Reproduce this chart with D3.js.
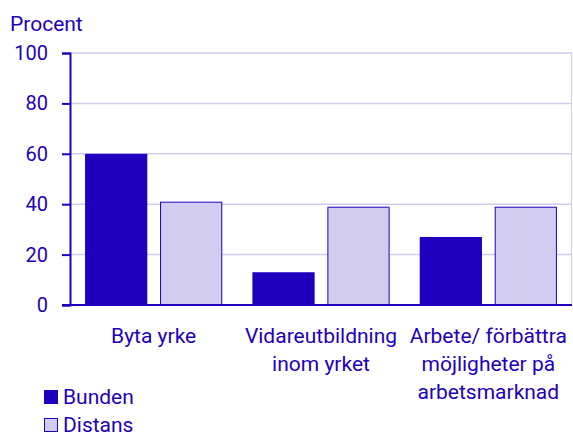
<!DOCTYPE html>
<html lang="sv">
<head>
<meta charset="UTF-8">
<title>Procent</title>
<style>
  html, body { margin: 0; padding: 0; background: #fff; }
  svg text { font-family: Roboto, "Noto Sans", sans-serif; fill: #1e00be; }
</style>
</head>
<body>
<svg class="chart"></svg>
<script src="https://cdn.jsdelivr.net/npm/d3@7"></script>
<script>
  // data
  const categories = [
    ["Byta yrke"],
    ["Vidareutbildning", "inom yrket"],
    ["Arbete/ förbättra", "möjligheter på", "arbetsmarknad"]
  ];
  const series = ["Bunden", "Distans"];
  const bunden = [60, 13, 27];
  const distans = [41, 39, 39];
  const yTicks = [0, 20, 40, 60, 80, 100];

  const width = 573, height = 439;
  const dark = "#1e00be", light = "#d2cdf0";
  const fs = 21;
  const m = { left: 70, right: 1, top: 53, bottom: 134 };

  const svg = d3.select("svg.chart").attr("width", width).attr("height", height);

  const x0 = d3.scaleBand()
    .domain(d3.range(categories.length))
    .range([m.left, width - m.right])
    .paddingInner(0.18).paddingOuter(0.09);
  const x1 = d3.scaleBand()
    .domain(series)
    .range([0, x0.bandwidth()])
    .paddingInner(0.17);
  const y = d3.scaleLinear().domain([0, 100]).range([height - m.bottom, m.top]);

  // gridlines
  svg.append("g").selectAll("line")
    .data(yTicks.slice(1))
    .join("line")
    .attr("x1", m.left).attr("x2", width - m.right)
    .attr("y1", d => y(d)).attr("y2", d => y(d))
    .attr("stroke", light).attr("stroke-width", 1.5);

  // right closing line
  svg.append("line")
    .attr("x1", width - m.right - 0.5).attr("x2", width - m.right - 0.5)
    .attr("y1", y(100)).attr("y2", y(0))
    .attr("stroke", light).attr("stroke-width", 1);

  // bars
  const rows = categories.map((c, i) => [
    { s: "Bunden", v: bunden[i], i },
    { s: "Distans", v: distans[i], i }
  ]);
  svg.append("g").selectAll("g")
    .data(rows)
    .join("g")
    .attr("transform", (d, i) => `translate(${x0(i)},0)`)
    .selectAll("rect")
    .data(d => d)
    .join("rect")
    .attr("x", d => x1(d.s) + (d.s === "Distans" ? 0.5 : 0))
    .attr("width", d => x1.bandwidth() - (d.s === "Distans" ? 1 : 0))
    .attr("y", d => y(d.v) + (d.s === "Distans" ? 0.5 : 0))
    .attr("height", d => y(0) - y(d.v) - (d.s === "Distans" ? 0.5 : 0))
    .attr("fill", d => d.s === "Bunden" ? dark : light)
    .attr("stroke", d => d.s === "Distans" ? dark : "none")
    .attr("stroke-width", 1);

  // y axis
  const yAxis = svg.append("g")
    .attr("transform", `translate(${m.left},0)`)
    .call(d3.axisLeft(y).tickValues(yTicks).tickSize(8).tickPadding(14));
  yAxis.select(".domain").attr("stroke", dark).attr("stroke-width", 2);
  yAxis.selectAll(".tick line").attr("stroke", dark).attr("stroke-width", 2);
  yAxis.selectAll(".tick text").attr("font-size", 20).attr("font-family", null).style("fill", dark);

  // x baseline
  svg.append("line")
    .attr("x1", m.left - 8).attr("x2", width - m.right)
    .attr("y1", y(0)).attr("y2", y(0))
    .attr("stroke", dark).attr("stroke-width", 2);

  // category labels
  svg.append("g").selectAll("text")
    .data(categories)
    .join("text")
    .attr("x", (d, i) => x0(i) + x0.bandwidth() / 2)
    .attr("y", 343)
    .attr("text-anchor", "middle")
    .attr("font-size", fs)
    .selectAll("tspan")
    .data(d => d)
    .join("tspan")
    .attr("x", function () { return this.parentNode.getAttribute("x"); })
    .attr("dy", (d, j) => j === 0 ? 0 : 28)
    .text(d => d);

  // unit label
  svg.append("text")
    .attr("x", 10).attr("y", 31)
    .attr("font-size", fs)
    .text("Procent");

  // legend
  const legend = svg.append("g").selectAll("g")
    .data(series)
    .join("g")
    .attr("transform", (d, i) => `translate(44,${390 + i * 28})`);
  legend.append("rect")
    .attr("x", 0.5).attr("y", 0.5)
    .attr("width", 13).attr("height", 13)
    .attr("fill", d => d === "Bunden" ? dark : light)
    .attr("stroke", dark).attr("stroke-width", 1);
  legend.append("text")
    .attr("x", 19).attr("y", 14)
    .attr("font-size", fs)
    .text(d => d);
</script>
</body>
</html>
